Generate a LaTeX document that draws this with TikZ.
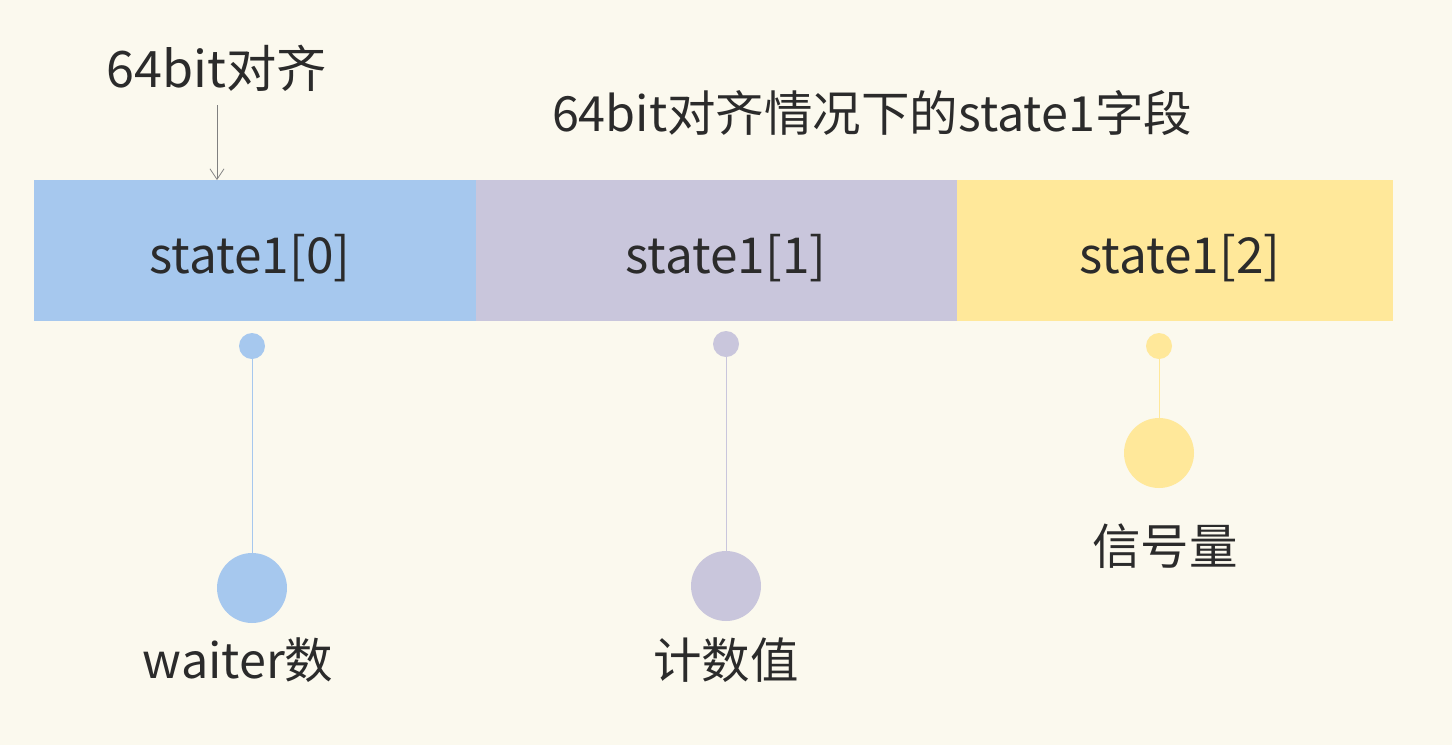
\documentclass[tikz,border=0pt]{standalone}
\usepackage{fontspec}
\setmainfont{Noto Sans CJK SC}
\usetikzlibrary{arrows.meta,positioning}
\definecolor{bgcream}{HTML}{FBF9EE}
\definecolor{cellblue}{HTML}{A6C8EE}
\definecolor{cellgray}{HTML}{C9C6DC}
\definecolor{cellyellow}{HTML}{FFE89A}
\definecolor{inkgray}{HTML}{2B2B2B}

\begin{document}
\begin{tikzpicture}[x=0.02cm, y=-0.02cm,
		cell/.style={rectangle,inner sep=0pt,minimum height=2.82cm,text=inkgray,font=\fontsize{28.2}{34}\selectfont},
		dot/.style={circle,inner sep=0pt,minimum size=0.52cm},
		bigdot/.style={circle,inner sep=0pt,minimum size=1.4cm},
		caption/.style={text=inkgray,font=\fontsize{27.6}{32}\selectfont}]
		\fill[bgcream] (0, 0) rectangle (1452, 745);
		% the three words of state1
		\node[cell,fill=cellblue,minimum width=8.84cm] (s0) at (255, 250.5) {};
		\node[cell,fill=cellgray,minimum width=9.62cm] (s1) at (716.5, 250.5) {};
		\node[cell,fill=cellyellow,minimum width=8.72cm] (s2) at (1175, 250.5) {};
		\node[cell] (t0) at (250, 258) {state1[0]};
		\node[cell] (t1) at (726, 258) {state1[1]};
		\node[cell] (t2) at (1180, 258) {state1[2]};

		\node[caption] (title) at (872, 113) {64bit对齐情况下的state1字段};
		\node[caption,font=\fontsize{28.6}{34}\selectfont] (align) at (217, 68) {64bit对齐};
		\coordinate (aligntop) at (217, 105);
		\coordinate (alignend) at (217, 180);
		\draw[gray, thin, -{Straight Barb[length=6pt,width=8pt]}] (aligntop) -- (alignend);

		% waiter count
		\node[dot,fill=cellblue] (d0) at (252, 346) {};
		\node[bigdot,fill=cellblue] (b0) at (252, 588) {};
		\draw[cellblue] (d0) -- (b0);
		\node[caption] (l0) at (238, 660) {waiter数};

		% counter
		\node[dot,fill=cellgray] (d1) at (726, 344) {};
		\node[bigdot,fill=cellgray] (b1) at (726, 586) {};
		\draw[cellgray] (d1) -- (b1);
		\node[caption] (l1) at (726, 660) {计数值};

		% semaphore
		\node[dot,fill=cellyellow] (d2) at (1159, 346) {};
		\node[bigdot,fill=cellyellow] (b2) at (1159, 453) {};
		\draw[cellyellow] (d2) -- (b2);
		\node[caption] (l2) at (1165, 546) {信号量};
\end{tikzpicture}
\end{document}
